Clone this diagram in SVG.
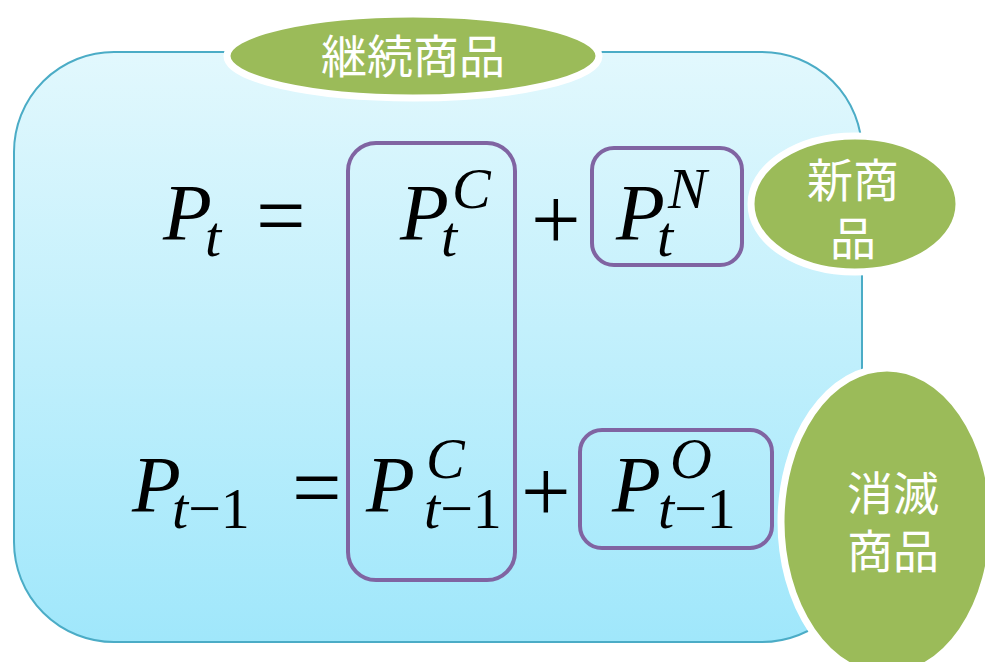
<svg xmlns="http://www.w3.org/2000/svg" width="985" height="662" viewBox="0 0 985 662">
<defs>
<linearGradient id="bg" x1="0" y1="0" x2="0" y2="1">
<stop offset="0" stop-color="#E2F8FD"/>
<stop offset="1" stop-color="#A0E7FB"/>
</linearGradient>
</defs>
<style>
.box{fill:url(#bg);stroke:#4BACC6;stroke-width:2}
.pur{fill:none;stroke:#8064A2;stroke-width:4}
.ell{fill:#9BBB59;stroke:#FFFFFF;stroke-width:7}
.lab{fill:#FFFFFF;font-family:"Noto Sans CJK JP","Noto Sans CJK SC",sans-serif;font-size:46px;text-anchor:middle}
.m{font-family:"Liberation Serif","DejaVu Serif",serif;fill:#000000;font-size:80px}
.i{font-style:italic}
.n{font-style:normal}
.op{font-size:88px}
.sm{font-size:58px}
</style>
<rect width="985" height="662" fill="#FFFFFF"/>
<g id="frame">
<rect class="box" x="14" y="52" width="848" height="590" rx="100" ry="100"/>
</g>
<g id="node-continuing">
<ellipse class="ell" cx="413" cy="56" rx="186" ry="42"/>
<text class="lab" x="413" y="73">継続商品</text>
</g>
<g id="node-new">
<ellipse class="ell" cx="855" cy="204" rx="104" ry="68"/>
<text class="lab" x="853" y="197">新商</text>
<text class="lab" x="853" y="255">品</text>
</g>
<g id="node-disappearing">
<ellipse class="ell" cx="887" cy="522" rx="106" ry="154"/>
<text class="lab" x="893" y="510">消滅</text>
<text class="lab" x="893" y="568">商品</text>
</g>
<g id="boxes">
<rect id="box-continuing" class="pur" x="348" y="143" width="167" height="437" rx="28"/>
<rect id="box-new" class="pur" x="592" y="148" width="150" height="117" rx="22"/>
<rect id="box-old" class="pur" x="580" y="430" width="192" height="118" rx="22"/>
</g>
<g id="eq1">
<text class="m i" x="163" y="240">P<tspan class="sm" x="205" y="256">t</tspan></text>
<text class="m op" x="256" y="245">=</text>
<text class="m i" x="400" y="240">P<tspan class="sm" x="452" y="208">C</tspan><tspan class="sm" x="441" y="256">t</tspan></text>
<text class="m op" x="531" y="249">+</text>
<text class="m i" x="616" y="240">P<tspan class="sm" x="668" y="208">N</tspan><tspan class="sm" x="657" y="256">t</tspan></text>
</g>
<g id="eq2">
<text class="m i" x="132" y="512">P<tspan class="sm" x="172" y="528">t<tspan class="n">−1</tspan></tspan></text>
<text class="m op" x="292" y="517">=</text>
<text class="m i" x="366" y="512">P<tspan class="sm" x="426" y="478">C</tspan><tspan class="sm" x="424" y="528">t<tspan class="n">−1</tspan></tspan></text>
<text class="m op" x="521" y="521">+</text>
<text class="m i" x="612" y="512">P<tspan class="sm" x="670" y="478">O</tspan><tspan class="sm" x="658" y="528">t<tspan class="n">−1</tspan></tspan></text>
</g>
</svg>
